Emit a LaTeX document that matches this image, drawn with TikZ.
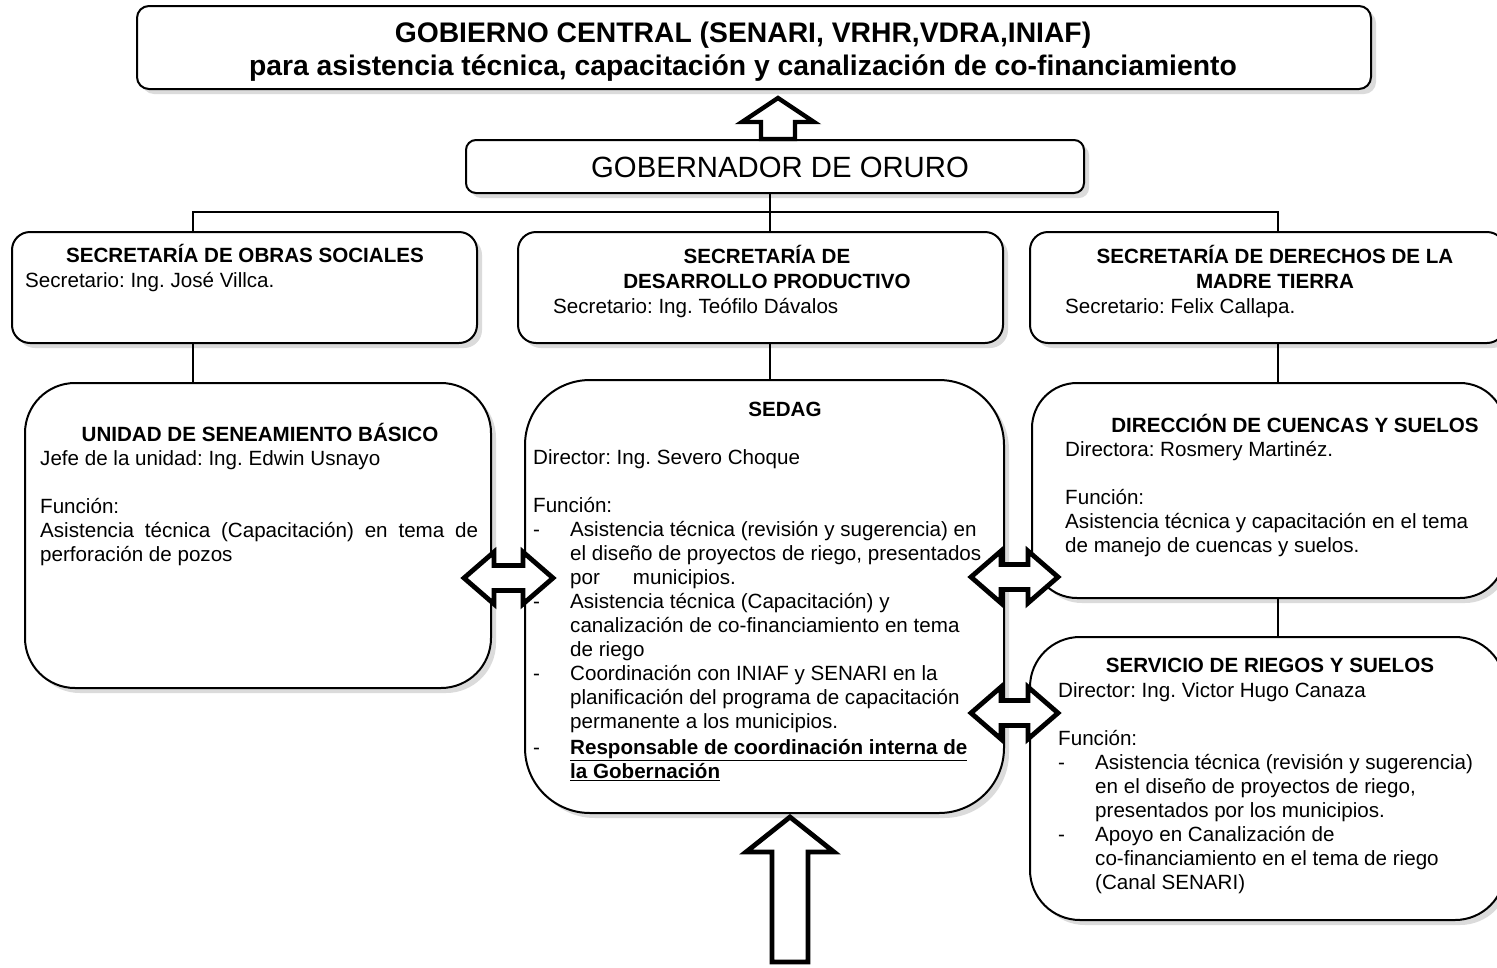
\documentclass[tikz,border=0pt]{standalone}
\usepackage{fontspec}
\setmainfont{Liberation Sans}
\usetikzlibrary{shadows}
\frenchspacing
\newcommand\tstrut{\rule{0pt}{21pt}}
\newcommand\uline[1]{\leavevmode\vtop{\hbox{#1}\kern1.2pt\hrule height 1.8pt}}
\newcommand\dblarr[3]{%
  \draw[barrow] (#1,#3) -- ({#1+30},{#3-26}) -- ({#1+30},{#3-12.5}) -- ({#2-30},{#3-12.5}) -- ({#2-30},{#3-26}) -- (#2,#3)
    -- ({#2-30},{#3+26}) -- ({#2-30},{#3+12.5}) -- ({#1+30},{#3+12.5}) -- ({#1+30},{#3+26}) -- cycle;}
\begin{document}
\begin{tikzpicture}[x=1pt,y=-1pt,
  box/.style={draw, line width=2pt, fill=white, inner sep=0pt, rectangle,
     drop shadow={shadow xshift=5pt, shadow yshift=-5pt, fill=black!14, opacity=1}},
  conn/.style={line width=2.4pt},
  barrow/.style={draw, line width=4.8pt, fill=white, line join=miter},
  bodyfont/.style={font=\fontsize{20.6}{24}\selectfont},
  body/.style={bodyfont, inner sep=0pt, anchor=north west, align=left, yshift=21pt},
  line/.style={bodyfont, inner sep=0pt, anchor=base west},
  ttl/.style={font=\fontsize{20.6}{24}\selectfont\bfseries, inner sep=0pt, anchor=base},
  ttlblock/.style={font=\fontsize{20.6}{25}\selectfont\bfseries, inner sep=0pt, anchor=north, align=center, yshift=21pt}
]
\useasboundingbox (0,0) rectangle (1497,967);
\fill[white] (0,0) rectangle (1497,967);

% boxes
\node[box, rounded corners=12pt, minimum width=1234pt, minimum height=83pt] (top) at (754,47.5) {};
\node[box, rounded corners=10pt, minimum width=618pt, minimum height=53pt] (gob) at (775,166.5) {};
\node[box, rounded corners=18pt, minimum width=465pt, minimum height=111pt] (s1) at (244.5,287.5) {};
\node[box, rounded corners=18pt, minimum width=485pt, minimum height=111pt] (s2) at (760.5,287.5) {};
\node[box, rounded corners=18pt, minimum width=475pt, minimum height=111pt] (s3) at (1267.5,287.5) {};
\node[box, rounded corners=50pt, minimum width=466pt, minimum height=305pt] (u1) at (258,535.5) {};
\node[box, rounded corners=65pt, minimum width=479pt, minimum height=433pt] (sedag) at (764.5,596.5) {};
\node[box, rounded corners=45pt, minimum width=473pt, minimum height=215pt] (dir) at (1268.5,490.5) {};
\node[box, rounded corners=50pt, minimum width=475pt, minimum height=283pt] (serv) at (1267.5,778.5) {};

% connectors
\coordinate (j1) at (193,212);
\coordinate (j2) at (770,212);
\coordinate (j3) at (1278,212);
\draw[conn] (gob.south -| j2) -- (j2);
\draw[conn] (j1 |- s1.north) -- (j1) -- (j3) -- (j3 |- s3.north);
\draw[conn] (j2) -- (j2 |- s2.north);
\draw[conn] (s1.south -| j1) -- (j1 |- u1.north);
\draw[conn] (s2.south -| j2) -- (j2 |- sedag.north);
\draw[conn] (s3.south -| j3) -- (j3 |- dir.north);
\draw[conn] (dir.south -| j3) -- (j3 |- serv.north);

% block arrows
\coordinate (ut) at (778,98);
\draw[barrow, line width=4.4pt] (ut) -- ++(36,24) -- ++(-19,0) -- (gob.north -| 795,0) -- (gob.north -| 761,0) -- (761,122) -- ++(-19,0) -- cycle;
\coordinate (bt) at (790,817);
\draw[barrow] (bt) -- ++(44,35) -- ++(-26,0) -- ++(0,110) -- ++(-36,0) -- ++(0,-110) -- ++(-26,0) -- cycle;
\dblarr{464}{553}{578}
\dblarr{971}{1058}{577}
\dblarr{971}{1058}{713}

% texts
\node[font=\fontsize{28.3}{33}\selectfont\bfseries, inner sep=0pt, anchor=north, align=center, yshift=24pt] (ttop) at (743,42)
  {\rule{0pt}{24pt}GOBIERNO CENTRAL (SENARI, VRHR,VDRA,INIAF)\\para asistencia técnica, capacitación y canalización de co-financiamiento};
\node[font=\fontsize{29.3}{34}\selectfont, inner sep=0pt, anchor=base] (tgob) at (780,177) {GOBERNADOR DE ORURO};

\node[ttl] (ts1) at (245,262) {SECRETARÍA DE OBRAS SOCIALES};
\node[line] (ns1) at (25,287) {Secretario: Ing. José Villca.};

\node[ttlblock] (ts2) at (767,263) {\tstrut SECRETARÍA DE\\DESARROLLO PRODUCTIVO};
\node[line] (ns2) at (553,313) {Secretario: Ing. Teófilo Dávalos};

\node[ttlblock] (ts3) at (1275,263) {\tstrut SECRETARÍA DE DERECHOS DE LA\\MADRE TIERRA};
\node[line] (ns3) at (1065,313) {Secretario: Felix Callapa.};

\node[ttl] (tu1) at (260,441) {UNIDAD DE SENEAMIENTO BÁSICO};
\node[body] (bu1) at (40,465) {\tstrut Jefe de la unidad: Ing. Edwin Usnayo\\[24pt]
  Función:\\
  \hbox to 438pt{Asistencia técnica (Capacitación) en tema de}\\
  perforación de pozos};

\node[ttl] (tsedag) at (785,416) {SEDAG};
\node[body] (bsedag) at (533,464) {\tstrut Director: Ing. Severo Choque\\[24pt]
  Función:\\
  \makebox[37pt][l]{-}Asistencia técnica (revisión y sugerencia) en\\
  \hspace*{37pt}el diseño de proyectos de riego, presentados\\
  \hspace*{37pt}por\hspace{1.6em}municipios.\\
  \makebox[37pt][l]{-}Asistencia técnica (Capacitación) y\\
  \hspace*{37pt}canalización de co-financiamiento en tema\\
  \hspace*{37pt}de riego\\
  \makebox[37pt][l]{-}Coordinación con INIAF y SENARI en la\\
  \hspace*{37pt}planificación del programa de capacitación\\
  \hspace*{37pt}permanente a los municipios.\\[2pt]
  \makebox[37pt][l]{-}\uline{\textbf{Responsable de coordinación interna de}}\\
  \hspace*{37pt}\uline{\textbf{la Gobernación}}};

\node[ttl] (tdir) at (1295,432) {DIRECCIÓN DE CUENCAS Y SUELOS};
\node[body] (bdir) at (1065,456) {\tstrut Directora: Rosmery Martinéz.\\[24pt]
  Función:\\
  Asistencia técnica y capacitación en el tema\\
  de manejo de cuencas y suelos.};

\node[ttl] (tserv) at (1270,672) {SERVICIO DE RIEGOS Y SUELOS};
\node[body] (bserv) at (1058,697) {\tstrut Director: Ing. Victor Hugo Canaza\\[24pt]
  Función:\\
  \makebox[37pt][l]{-}Asistencia técnica (revisión y sugerencia)\\
  \hspace*{37pt}en el diseño de proyectos de riego,\\
  \hspace*{37pt}presentados por los municipios.\\
  \makebox[37pt][l]{-}Apoyo en Canalización de\\
  \hspace*{37pt}co-financiamiento en el tema de riego\\
  \hspace*{37pt}(Canal SENARI)};
\end{tikzpicture}
\end{document}
